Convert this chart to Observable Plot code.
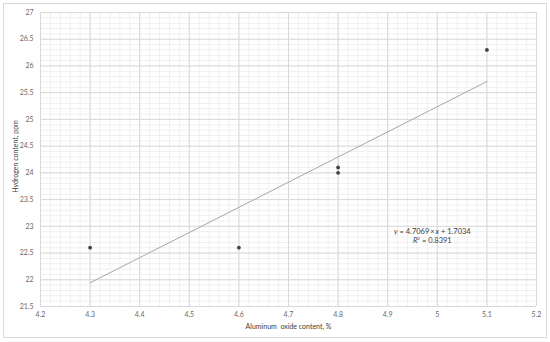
<!DOCTYPE html>
<html>
<head>
<meta charset="utf-8">
<script src="https://cdn.jsdelivr.net/npm/d3@7"></script>
<script src="https://cdn.jsdelivr.net/npm/@observablehq/plot@0.6"></script>
<style>
  html, body { margin: 0; padding: 0; background: #fff; }
  #chart { width: 550px; height: 342px; }
</style>
</head>
<body>
<div id="chart"></div>
<script>
// Data
const aluminumOxide = [4.3, 4.6, 4.8, 4.8, 5.1];
const hydrogen = [22.6, 22.6, 24.0, 24.1, 26.3];
const trendSlope = 4.7069;
const trendIntercept = 1.7034;
const trendR2 = 0.8391;
const xTicks = [4.2, 4.3, 4.4, 4.5, 4.6, 4.7, 4.8, 4.9, 5, 5.1, 5.2];
const yTicks = [21.5, 22, 22.5, 23, 23.5, 24, 24.5, 25, 25.5, 26, 26.5, 27];
const xLabel = "Aluminum  oxide content, %";
const yLabel = "Hydrogen content, ppm";

const points = aluminumOxide.map((x, i) => ({x, y: hydrogen[i]}));
const trendX = [d3.min(aluminumOxide), d3.max(aluminumOxide)];
const trend = trendX.map(x => ({x, y: trendSlope * x + trendIntercept}));
const xMinor = d3.range(4.2, 5.2001, 0.02).map(v => +v.toFixed(2));
const yMinor = d3.range(21.5, 27.001, 0.1).map(v => +v.toFixed(1));

const plot = Plot.plot({
  width: 550,
  height: 342,
  marginLeft: 40,
  marginRight: 14,
  marginTop: 12,
  marginBottom: 36,
  style: {fontFamily: "Lato, 'Open Sans', sans-serif", fontSize: "7px", color: "#6a6a6a", background: "#fff"},
  x: {domain: [4.2, 5.2], label: null},
  y: {domain: [21.5, 27], label: null},
  marks: [
    Plot.ruleX(xMinor, {stroke: "#f0f0f0", strokeWidth: 1}),
    Plot.ruleY(yMinor, {stroke: "#f0f0f0", strokeWidth: 1}),
    Plot.ruleX(xTicks, {stroke: "#d9d9d9", strokeWidth: 1}),
    Plot.ruleY(yTicks, {stroke: "#d9d9d9", strokeWidth: 1}),
    Plot.axisX({ticks: xTicks, tickSize: 0, tickPadding: 6, tickFormat: d => String(d), label: null, fill: "#6a6a6a", fontSize: 7}),
    Plot.axisY({ticks: yTicks, tickSize: 0, tickPadding: 7, tickFormat: d => String(d), label: null, fill: "#6a6a6a", fontSize: 7}),
    Plot.line(trend, {x: "x", y: "y", stroke: "#a6a6a6", strokeWidth: 1}),
    Plot.dot(points, {x: "x", y: "y", r: 1.9, fill: "#404040", stroke: "none"}),
    Plot.text([{x: 4.99, y: 22.9, k: "eq"}, {x: 4.99, y: 22.74, k: "r2"}], {
      x: "x", y: "y", text: "k", fill: "#404040", fontSize: 7.5, textAnchor: "middle", className: "eqn"
    }),
    Plot.text([xLabel], {frameAnchor: "bottom", dy: 22, fill: "#404040", fontSize: 7, className: "xlab"}),
    Plot.text([yLabel], {frameAnchor: "left", dx: -25, dy: -3, rotate: -90, textAnchor: "middle", fill: "#404040", fontSize: 7, className: "ylab"})
  ]
});

// mixed italic equation text
const svg = d3.select(plot);
svg.selectAll("g.eqn text").each(function() {
  const t = d3.select(this);
  const kind = t.text();
  t.text(null);
  if (kind === "eq") {
    t.append("tspan").attr("font-style", "italic").text("y");
    t.append("tspan").text(" = " + trendSlope + "\u2009×\u2009");
    t.append("tspan").attr("font-style", "italic").text("x");
    t.append("tspan").text(" + " + trendIntercept);
  } else {
    t.append("tspan").attr("font-style", "italic").text("R");
    t.append("tspan").attr("font-size", "4.5px").attr("dy", "-3").text("2");
    t.append("tspan").attr("dy", "3").text(" = " + trendR2);
  }
});
// outer chart frame
svg.insert("rect", ":first-child")
  .attr("x", 3.5).attr("y", 3.5).attr("width", 543).attr("height", 334)
  .attr("fill", "none").attr("stroke", "#d9d9d9").attr("stroke-width", 1);

document.getElementById("chart").appendChild(plot);
</script>
</body>
</html>
